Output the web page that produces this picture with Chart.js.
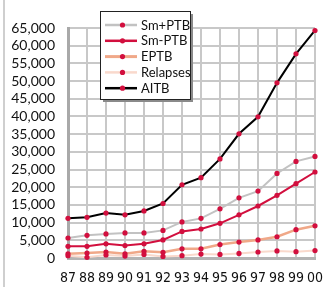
<!DOCTYPE html>
<html>
<head>
<meta charset="utf-8">
<script src="https://cdn.jsdelivr.net/npm/chart.js@4/dist/chart.umd.min.js"></script>
<style>
  html, body { margin: 0; padding: 0; background: #fff; }
  #wrap { width: 335px; height: 287px; }
</style>
</head>
<body>
<div id="wrap"><canvas id="chartTB"></canvas></div>
<script>
// Casos de tuberculose por ano (87 a 00)
const anos = ["87", "88", "89", "90", "91", "92", "93", "94", "95", "96", "97", "98", "99", "00"];
const smPos = [5650, 6400, 6800, 7100, 7100, 7800, 10200, 11200, 13900, 17000, 18900, 23900, 27300, 28700];
const smNeg = [3300, 3300, 4000, 3500, 4000, 5100, 7500, 8200, 9800, 12200, 14700, 17700, 21000, 24300];
const eptb = [1200, 1400, 1700, 1200, 1900, 1600, 2600, 2600, 3800, 4500, 5100, 6000, 8000, 9100];
const recaidas = [650, 200, 850, 550, 1000, 450, 650, 1100, 1000, 1300, 1700, 2000, 1800, 2100];
const aitb = [11200, 11500, 12700, 12200, 13300, 15400, 20700, 22700, 28000, 35100, 39900, 49500, 57700, 64300];
const yMax = 65000;
const yStep = 5000;

const corPonto = "#d20f3e";
const fonte = "Lato, 'Open Sans', sans-serif";
const fonteEstreita = "'Liberation Sans Narrow', 'DejaVu Sans Condensed', Lato, sans-serif";

// Legenda desenhada dentro do gráfico, com caixa e sombra
const legendaCaixa = {
  id: "legendaCaixa",
  afterDraw(chart) {
    const ctx = chart.ctx;
    const x0 = 100, y0 = 11, w = 90, h = 88;
    ctx.save();
    ctx.fillStyle = "#8a8a8a";
    ctx.fillRect(x0 + 3, y0 + 3, w, h);
    ctx.fillStyle = "#fff";
    ctx.fillRect(x0, y0, w, h);
    ctx.strokeStyle = "#222";
    ctx.lineWidth = 1;
    ctx.strokeRect(x0 + 0.5, y0 + 0.5, w, h);
    chart.data.datasets.forEach((ds, i) => {
      const y = 25 + i * 15.8;
      ctx.strokeStyle = ds.borderColor;
      ctx.lineWidth = ds.borderWidth + 0.5;
      ctx.beginPath();
      ctx.moveTo(105, y);
      ctx.lineTo(137, y);
      ctx.stroke();
      ctx.fillStyle = corPonto;
      ctx.beginPath();
      ctx.arc(122.5, y, 2.6, 0, Math.PI * 2);
      ctx.fill();
      ctx.fillStyle = "#111";
      ctx.font = "13px " + fonte;
      ctx.textBaseline = "middle";
      ctx.fillText(ds.label, 141, y + 0.5);
    });
    ctx.restore();
  }
};

// Linha cinza da moldura à esquerda
const moldura = {
  id: "moldura",
  beforeDraw(chart) {
    const ctx = chart.ctx;
    ctx.save();
    ctx.fillStyle = "#fff";
    ctx.fillRect(0, 0, chart.width, chart.height);
    ctx.fillStyle = "#cfcfcf";
    ctx.fillRect(3, 0, 2, chart.height);
    ctx.restore();
  }
};

function serie(label, data, cor, largura) {
  return {
    label: label,
    data: data,
    borderColor: cor,
    backgroundColor: cor,
    borderWidth: largura,
    pointRadius: 2.6,
    pointBackgroundColor: corPonto,
    pointBorderWidth: 0,
    tension: 0,
    fill: false,
    clip: 6
  };
}

new Chart(document.getElementById("chartTB"), {
  type: "line",
  data: {
    labels: anos,
    datasets: [
      serie("Sm+PTB", smPos, "#c2c2c2", 2),
      serie("Sm-PTB", smNeg, "#d20f3e", 2),
      serie("EPTB", eptb, "#f0a888", 2.5),
      serie("Relapses", recaidas, "#f9d9cc", 2),
      serie("AITB", aitb, "#000000", 2)
    ]
  },
  options: {
    responsive: true,
    maintainAspectRatio: false,
    animation: false,
    layout: { padding: { left: 0, top: 28, right: 8, bottom: 0 } },
    plugins: {
      legend: { display: false },
      title: { display: false },
      tooltip: { enabled: false }
    },
    scales: {
      x: {
        offset: false,
        afterFit(scale) { scale.height = 29; },
        grid: { color: "#c8c8c8", lineWidth: 2, drawTicks: false },
        border: { color: "#b4b4b4", width: 3 },
        ticks: {
          color: "#111",
          padding: 12,
          maxRotation: 0,
          autoSkip: false,
          font: { family: fonteEstreita, size: 14 }
        }
      },
      y: {
        min: 0,
        max: yMax,
        afterFit(scale) { scale.width = 68; },
        grid: { color: "#c8c8c8", lineWidth: 2, drawTicks: false },
        border: { color: "#a9a9a9", width: 3 },
        ticks: {
          stepSize: yStep,
          autoSkip: false,
          color: "#111",
          padding: 13,
          font: { family: fonte, size: 14 },
          callback: (v) => v.toLocaleString("en-US")
        }
      }
    }
  },
  plugins: [moldura, legendaCaixa]
});
</script>
</body>
</html>
